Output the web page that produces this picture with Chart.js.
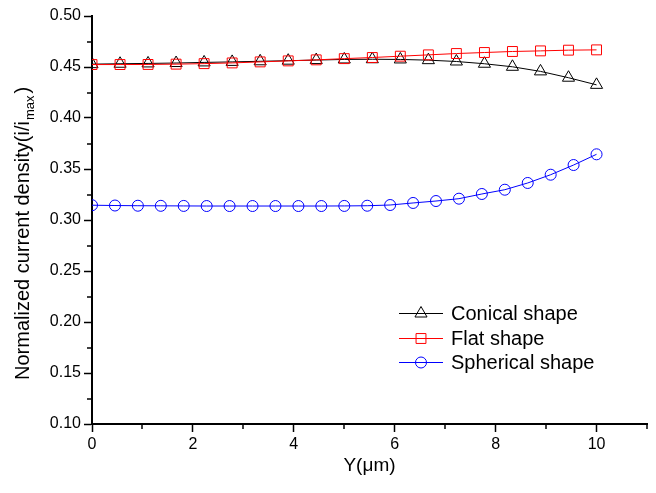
<!DOCTYPE html>
<html><head><meta charset="utf-8">
<script src="https://cdn.jsdelivr.net/npm/chart.js@4/dist/chart.umd.min.js"></script>
<style>html,body{margin:0;padding:0;background:#fff}#wrap{width:656px;height:493px}</style>
</head><body><div id="wrap"><canvas id="c" width="656" height="493"></canvas></div>
<script>
// ---- data ----
const xConicalFlat = [0, 0.556, 1.111, 1.667, 2.222, 2.778, 3.333, 3.889, 4.444, 5, 5.556, 6.111, 6.667, 7.222, 7.778, 8.333, 8.889, 9.444, 10];
const conical = [0.4528, 0.4532, 0.4535, 0.4539, 0.4545, 0.4550, 0.4556, 0.4562, 0.4568, 0.4574, 0.4576, 0.4574, 0.4567, 0.4554, 0.4532, 0.4502, 0.4457, 0.4395, 0.4325];
const flat = [0.4524, 0.4524, 0.4525, 0.4528, 0.4533, 0.4540, 0.4550, 0.4560, 0.4570, 0.4582, 0.4593, 0.4606, 0.4619, 0.4632, 0.4642, 0.4652, 0.4658, 0.4665, 0.4668];
const xSpherical = [0, 0.455, 0.909, 1.364, 1.818, 2.273, 2.727, 3.182, 3.636, 4.091, 4.545, 5, 5.455, 5.909, 6.364, 6.818, 7.273, 7.727, 8.182, 8.636, 9.091, 9.545, 10];
const spherical = [0.3145, 0.3142, 0.3140, 0.3139, 0.3138, 0.3137, 0.3137, 0.3137, 0.3137, 0.3137, 0.3137, 0.3138, 0.3140, 0.3147, 0.3167, 0.3186, 0.3209, 0.3255, 0.3297, 0.3363, 0.3444, 0.3539, 0.3644];
const seriesNames = ['Conical shape', 'Flat shape', 'Spherical shape'];
const xTitle = 'Y(\u03bcm)';
const yTitleMain = 'Normalized current density(i/i';
const yTitleSub = 'max';
const yTitleEnd = ')';

const FONT = '"Liberation Sans", Arial, Helvetica, sans-serif';

function pts(xs, ys) { return xs.map((x, i) => ({ x: x, y: ys[i] })); }

const isMajorX = v => Math.round(v) % 2 === 0;
const isMajorY = v => Math.round(v * 1000) % 50 === 0;

const minorTicks = {
  id: 'minorTicks',
  afterDraw(chart) {
    const ctx = chart.ctx;
    const xs = chart.scales.x, ys = chart.scales.y;
    ctx.save();
    ctx.strokeStyle = '#000';
    ctx.lineWidth = 1.5;
    xs.ticks.forEach(t => {
      if (!isMajorX(t.value)) {
        const px = Math.round(xs.getPixelForValue(t.value));
        ctx.beginPath(); ctx.moveTo(px, xs.top); ctx.lineTo(px, xs.top + 5); ctx.stroke();
      }
    });
    ys.ticks.forEach(t => {
      if (!isMajorY(t.value)) {
        const py = Math.round(ys.getPixelForValue(t.value));
        ctx.beginPath(); ctx.moveTo(ys.right, py); ctx.lineTo(ys.right - 5, py); ctx.stroke();
      }
    });
    ctx.restore();
  }
};

const titlesAndLegend = {
  id: 'titlesAndLegend',
  afterDraw(chart) {
    const ctx = chart.ctx;
    const ca = chart.chartArea;
    ctx.save();
    ctx.fillStyle = '#000';
    // x title
    ctx.font = '19px ' + FONT;
    ctx.textAlign = 'center';
    ctx.textBaseline = 'middle';
    ctx.fillText(xTitle, (ca.left + ca.right) / 2, 466);
    // y title with subscript (reads bottom to top, starts near y=380)
    ctx.save();
    ctx.translate(23, 380);
    ctx.rotate(-Math.PI / 2);
    ctx.textAlign = 'left';
    ctx.textBaseline = 'middle';
    const mainFont = '20px ' + FONT, subFont = '13px ' + FONT;
    ctx.font = mainFont; const w1 = ctx.measureText(yTitleMain).width;
    ctx.font = subFont; const w2 = ctx.measureText(yTitleSub).width;
    ctx.font = mainFont; ctx.fillText(yTitleMain, 0, 0);
    ctx.font = subFont; ctx.fillText(yTitleSub, w1 + 1, 7);
    ctx.font = mainFont; ctx.fillText(yTitleEnd, w1 + w2 + 3, 0);
    ctx.restore();
    // legend
    const rows = [313, 338, 362];
    chart.data.datasets.forEach((ds, i) => {
      const y = rows[i];
      ctx.strokeStyle = ds.borderColor;
      ctx.lineWidth = 1;
      ctx.beginPath(); ctx.moveTo(399, y + 0.5); ctx.lineTo(443, y + 0.5); ctx.stroke();
      ctx.fillStyle = 'rgba(0,0,0,0)';
      Chart.helpers.drawPoint(ctx, { pointStyle: ds.pointStyle, rotation: 0, radius: ds.pointRadius, borderWidth: 1 }, 421, y + 0.5);
      ctx.fillStyle = '#000';
      ctx.font = '20px ' + FONT;
      ctx.textAlign = 'left';
      ctx.textBaseline = 'middle';
      ctx.fillText(ds.label, 451, y + 1);
    });
    ctx.restore();
  }
};

new Chart(document.getElementById('c'), {
  type: 'line',
  data: {
    datasets: [
      { label: seriesNames[0], data: pts(xConicalFlat, conical), borderColor: '#000000', pointStyle: 'triangle', pointRadius: 7, order: 1 },
      { label: seriesNames[1], data: pts(xConicalFlat, flat), borderColor: '#ff0000', pointStyle: 'rect', pointRadius: 7, order: 0 },
      { label: seriesNames[2], data: pts(xSpherical, spherical), borderColor: '#0000ff', pointStyle: 'circle', pointRadius: 5.5, order: 2 }
    ].map(d => Object.assign({
      borderWidth: 1, pointBorderColor: d.borderColor, pointBackgroundColor: 'rgba(0,0,0,0)',
      pointBorderWidth: 1, tension: 0, fill: false, pointHoverRadius: d.pointRadius
    }, d))
  },
  options: {
    responsive: false, animation: false, devicePixelRatio: 1,
    layout: { padding: { left: 0, right: 9, top: 16, bottom: 0 } },
    plugins: { legend: { display: false }, tooltip: { enabled: false } },
    scales: {
      x: {
        type: 'linear', min: 0, max: 11,
        border: { color: '#000', width: 2 },
        grid: { drawOnChartArea: false, tickLength: 8, tickWidth: 1.5,
          tickColor: c => isMajorX(c.tick.value) ? '#000' : 'rgba(0,0,0,0)' },
        ticks: { stepSize: 1, autoSkip: false, maxRotation: 0, color: '#000', padding: 3,
          font: { family: FONT, size: 16 },
          callback: v => isMajorX(v) ? String(v) : '' },
        afterFit: s => { s.height = 69; }
      },
      y: {
        type: 'linear', min: 0.1, max: 0.5,
        border: { color: '#000', width: 2 },
        grid: { drawOnChartArea: false, tickLength: 8, tickWidth: 1.5,
          tickColor: c => isMajorY(c.tick.value) ? '#000' : 'rgba(0,0,0,0)' },
        ticks: { stepSize: 0.025, autoSkip: false, color: '#000', padding: 3,
          font: { family: FONT, size: 16 },
          callback: v => isMajorY(v) ? v.toFixed(2) : '' },
        afterFit: s => { s.width = 92; }
      }
    }
  },
  plugins: [minorTicks, titlesAndLegend]
});
</script>
</body></html>
